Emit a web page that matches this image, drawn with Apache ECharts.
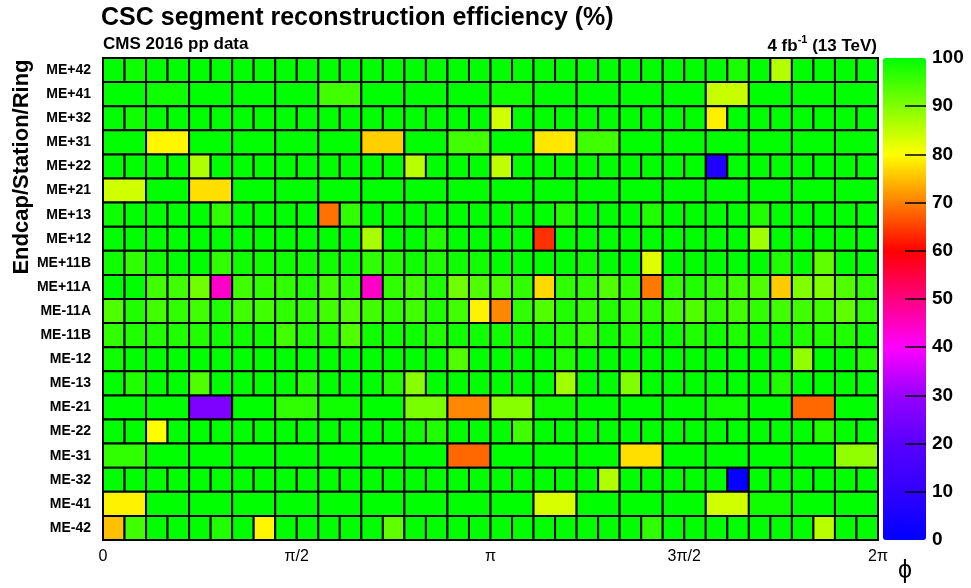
<!DOCTYPE html>
<html>
<head>
<meta charset="utf-8">
<script src="https://cdn.jsdelivr.net/npm/echarts@6/dist/echarts.min.js"></script>
<style>
  html, body { margin: 0; padding: 0; background: #fff; }
  #chart { width: 971px; height: 588px; }
</style>
</head>
<body>
<div id="chart"></div>
<script>
// rows, top to bottom
const rowLabels = ['ME+42','ME+41','ME+32','ME+31','ME+22','ME+21','ME+13','ME+12','ME+11B','ME+11A',
                   'ME-11A','ME-11B','ME-12','ME-13','ME-21','ME-22','ME-31','ME-32','ME-41','ME-42']

// efficiency per chamber (%) - 36 chambers or 18 chambers per ring
const meP42 = [100,99,100,100,100,100,100,100,100,100,100,100,100,100,100,100,100,100, 100,100,100,100,100,100,100,100,100,100,100,98,100,86,100,100,100,100]
const meP41 = [100,99,100,100,100,95,100,100,100, 99,100,100,100,100,84.4,100,100,100]
const meP32 = [100,98.8,100,100,100,100,100,100,100,100,100,100,100,100,100,100,100,100, 83.7,100,100,100,100,100,100,100,100,100,78.8,100,100,100,100,100,100,100]
const meP31 = [100,79.4,100,100,100,100,76.2,100,95, 100,78.1,95,100,100,100,100,100,100]
const meP22 = [100,100,100,100,86.2,100,100,100,100,100,100,100,100,100,85.6,100,100,100, 85,100,100,100,100,100,100,100,100,100,6.7,100,100,100,100,100,100,100]
const meP21 = [83.7,100,77.5,100,100,100,100,100,100, 100,100,100,100,100,100,100,100,100]
const meP13 = [99,100,100,100,100,96.3,100,100,100,100,68.8,96.3,100,100,100,100,100,100, 100,100,100,97.5,100,100,100,97.5,100,100,100,100,97.5,100,100,100,100,100]
const meP12 = [100,100,100,100,100,100,100,100,100,100,100,100,86.9,100,100,97.5,100,100, 100,100,63.8,100,100,100,100,100,100,100,100,100,87.5,100,100,100,100,100]
const meP11B = [98.8,96.3,98.8,100,100,96.3,98.8,98.8,98.8,98.8,98.8,98.8,96.3,97.5,98.8,97.5,98.8,98.8, 100,100,100,100,98.8,100,100,82.5,100,100,100,100,100,97.5,100,92.5,100,100]
const meP11A = [100,100,95,95,91.3,44.3,95,96.3,96.3,97.5,95,96.3,44.3,96.3,95,97.5,91.3,93.8, 93.8,96.3,77.1,96.3,96.3,93.8,96.3,69.4,96.3,97.5,96.3,95,93.8,75.9,90,90,93.8,96.3]
const meM11A = [93.8,97.5,95,96.3,95,97.5,95,95,96.3,96.3,95,93.8,95,96.3,95,97.5,95,79, 70.6,96.3,93.8,97.5,96.3,97.5,96.3,96.3,95,93.8,96.3,95,96.3,95,95,95,92.5,96.3]
const meM11B = [96.3,97.5,97.5,97.5,97.5,98.8,98.8,98.8,95,97.5,97.5,93.8,98.8,98.8,98.8,97.5,98.8,98.8, 98.8,98.8,98.8,97.5,96.3,98.8,97.5,98.8,98.8,97.5,98.8,97.5,98.8,98.8,97.5,97.5,97.5,98.8]
const meM12 = [98.8,100,100,100,100,100,100,100,100,100,100,100,100,100,100,100,93.8,100, 100,100,100,97.5,100,100,100,100,100,100,100,100,100,100,88.7,100,100,97.5]
const meM13 = [100,97.5,100,100,93.8,100,100,100,100,97.5,100,100,100,97.5,89.4,100,100,100, 100,100,100,87.5,100,100,90,100,100,100,100,100,100,97.5,100,100,100,100]
const meM21 = [100,100,26,100,96.3,98.8,100,90.6,70.6, 89.4,98.8,100,100,100,98.8,100,68.1,100]
const meM22 = [100,100,80,100,100,100,100,100,100,100,100,100,100,100,98.8,97.5,100,100, 100,95,100,100,100,100,100,100,100,100,100,100,100,100,100,97.5,100,100]
const meM31 = [96.3,100,100,100,100,100,100,100,68.1, 100,100,100,77.5,100,100,100,100,88.7]
const meM32 = [100,100,100,100,100,100,100,100,100,100,100,100,100,100,100,100,100,100, 100,100,100,100,100,86.2,100,100,100,100,100,1,100,100,100,100,100,100]
const meM41 = [79,100,100,100,100,100,100,100,100, 100,83.1,100,100,100,83.7,98.8,100,100]
const meM42 = [75,95,100,100,100,97.5,100,79.4,100,100,100,100,100,92.5,100,100,100,100, 100,100,100,100,100,100,100,96.3,100,100,100,100,100,100,100,85.6,100,100]

const rows = [meP42,meP41,meP32,meP31,meP22,meP21,meP13,meP12,meP11B,meP11A,
              meM11A,meM11B,meM12,meM13,meM21,meM22,meM31,meM32,meM41,meM42]

const phiTicks = ['0','π/2','π','3π/2','2π']
const paletteColors = ['#0000ff','#3000ff','#5800ff','#9800ff','#ff00ff','#ff0080','#ff0000','#ff8000','#ffff00','#80ff00','#00ff00']

const font = "'Liberation Sans', Arial, Helvetica, sans-serif"
const nPhi = 36

// cells: [phi start, phi end, row, value]
const cells = []
rows.forEach((vals, r) => {
    const w = nPhi / vals.length
    vals.forEach((v, i) => {
        cells.push([i * w, (i + 1) * w, r, v])
    })
})

const myChart = echarts.init(document.getElementById('chart'))

const options = {
    animation: false,
    textStyle: { fontFamily: font },
    title: [
        {
            text: 'CSC segment reconstruction efficiency (%)',
            left: 101, top: 6, padding: 0,
            textStyle: { fontSize: 25, fontWeight: 'bold', color: '#000', fontFamily: font }
        },
        {
            text: 'CMS 2016 pp data',
            left: 103, top: 36, padding: 0,
            textStyle: { fontSize: 17, fontWeight: 'bold', color: '#000', fontFamily: font }
        },
        {
            text: '{a|4 fb}{s|-1}{a| (13 TeV)}',
            right: 94, top: 34, padding: 0,
            textStyle: {
                rich: {
                    a: { fontSize: 17, fontWeight: 'bold', color: '#000', fontFamily: font, verticalAlign: 'bottom', lineHeight: 21 },
                    s: { fontSize: 11, fontWeight: 'bold', color: '#000', fontFamily: font, verticalAlign: 'top', lineHeight: 21 }
                }
            }
        }
    ],
    grid: [
        { left: 103, right: 93, top: 58, bottom: 48 },
        // narrow strip at the right side of the colour bar, for its ticks
        { left: 905, width: 21, top: 58, bottom: 48 }
    ],
    xAxis: [
        {
            type: 'value', min: 0, max: nPhi, interval: 9,
            axisLine: { show: false },
            axisTick: { show: false },
            splitLine: { show: false },
            axisLabel: {
                margin: 9, fontSize: 16, color: '#000', fontFamily: font,
                formatter: (v) => phiTicks[Math.round(v / 9)]
            }
        },
        { gridIndex: 1, type: 'value', show: false }
    ],
    yAxis: [
        {
            type: 'category', data: rowLabels, inverse: true,
            axisLine: { show: false },
            axisTick: { show: false },
            axisLabel: { margin: 12, fontSize: 14, fontWeight: 'bold', color: '#000', fontFamily: font }
        },
        {
            gridIndex: 1, type: 'value', min: 0, max: 100, interval: 10,
            position: 'right', z: 10,
            axisLine: { show: false },
            axisTick: { show: false },
            splitLine: { show: true, showMinLine: false, showMaxLine: false, lineStyle: { color: '#000', width: 1.5 } },
            axisLabel: { margin: 6, fontSize: 19, fontWeight: 'bold', color: '#000', fontFamily: font }
        }
    ],
    visualMap: {
        type: 'continuous',
        min: 0, max: 100,
        dimension: 3,
        seriesIndex: 0,
        calculable: false,
        hoverLink: false,
        left: 883, top: 58,
        itemWidth: 43, itemHeight: 482,
        padding: 0,
        z: 2,
        inRange: { color: paletteColors }
    },
    graphic: [
        {
            type: 'text', x: 22, y: 167, rotation: Math.PI / 2,
            style: { text: 'Endcap/Station/Ring', font: 'bold 22px ' + font, fill: '#000', align: 'center', verticalAlign: 'middle' }
        },
        {
            type: 'text', x: 905, y: 571,
            style: { text: 'ϕ', font: '25px ' + font, fill: '#000', align: 'center', verticalAlign: 'middle' }
        }
    ],
    series: [
        {
            type: 'custom',
            data: cells,
            encode: { x: [0, 1], y: 2 },
            renderItem: function (params, api) {
                const p0 = api.coord([api.value(0), api.value(2)])
                const p1 = api.coord([api.value(1), api.value(2)])
                const h = api.size([0, 1])[1]
                return {
                    type: 'rect',
                    shape: { x: p0[0], y: p0[1] - h / 2, width: p1[0] - p0[0], height: h },
                    style: { fill: api.visual('color'), stroke: '#000', lineWidth: 2 }
                }
            }
        }
    ]
}

myChart.setOption(options)
</script>
</body>
</html>
